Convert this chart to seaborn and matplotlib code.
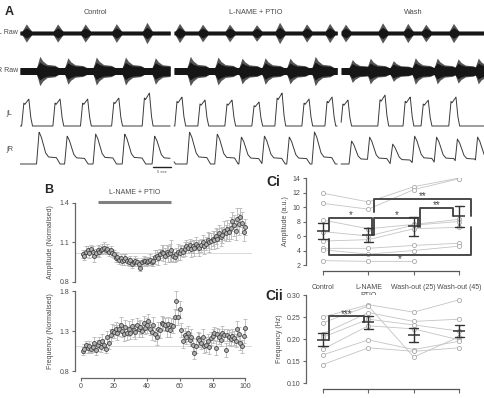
import matplotlib
matplotlib.use("Agg")
import matplotlib.pyplot as plt
import numpy as np
import pandas as pd
import seaborn as sns

#%% DATA
# = = = =

W, H = 485, 398

# A : bursts (onset in s, integrated height in a.u.)
seg_start = [0.0, 42.8, 89.2]
seg_end = [41.7, 88.1, 129.2]
seg_names = ["Control", "L-NAME + PTIO", "Wash"]

intL_onset = [0.75, 9.44, 17.1, 25.75, 34.25,
              43.3, 49.7, 57.2, 64.7, 71.1, 78.6, 85.0,
              89.4, 99.7, 106.7, 111.7, 119.4]
intL_height = [27, 27, 27, 28, 33,
               29, 26, 26, 24, 33, 27, 29,
               26, 31, 29, 26, 29]
intR_onset = [4.9, 12.7, 20.6, 28.7, 37.0,
              46.7, 54.4, 61.1, 67.5, 74.4, 81.4,
              91.7, 96.7, 103.1, 109.2, 115.3, 121.1, 126.7]
intR_height = [32, 28, 30, 30, 28,
               32, 30, 27, 28, 27, 32,
               23, 27, 20, 28, 27, 25, 27]

# B : normalised amplitude / frequency, time points 1..100
b_time = list(range(1, 101))
amp_mean = [1.01, 1.00, 1.03, 1.04, 1.02, 1.05, 1.03, 1.00, 1.02, 1.04,
            1.03, 1.04, 1.05, 1.06, 1.04, 1.05, 1.03, 1.04, 1.02, 1.01,
            0.98, 0.99, 0.97, 0.98, 0.96, 0.97, 0.98, 0.96, 0.95, 0.97,
            0.94, 0.95, 0.96, 0.95, 0.94, 0.91, 0.95, 0.96, 0.96, 0.95,
            0.96, 0.97, 0.95, 0.96, 0.99, 1.00, 0.98, 1.01, 1.03, 1.02,
            1.00, 1.03, 1.01, 1.02, 1.04, 1.00, 0.99, 1.01, 1.03, 1.02,
            1.04, 1.03, 1.05, 1.07, 1.06, 1.08, 1.05, 1.07, 1.06, 1.09,
            1.07, 1.06, 1.08, 1.10, 1.07, 1.09, 1.12, 1.10, 1.11, 1.13,
            1.12, 1.15, 1.13, 1.17, 1.14, 1.16, 1.19, 1.17, 1.20, 1.18,
            1.21, 1.26, 1.23, 1.19, 1.28, 1.24, 1.29, 1.25, 1.18, 1.22]
amp_err = [.03, .03, .04, .03, .04, .03, .04, .05, .03, .04,
           .04, .03, .04, .04, .03, .04, .03, .03, .03, .03,
           .03, .04, .03, .03, .03, .04, .03, .03, .03, .03,
           .03, .03, .04, .03, .03, .03, .03, .04, .03, .03,
           .03, .04, .03, .04, .05, .04, .05, .04, .05, .06,
           .06, .05, .06, .07, .08, .05, .04, .05, .06, .05,
           .04, .04, .05, .05, .04, .05, .06, .05, .06, .05,
           .05, .06, .05, .06, .06, .05, .06, .07, .06, .06,
           .07, .06, .07, .06, .07, .06, .07, .06, .07, .07,
           .08, .07, .08, .07, .08, .08, .07, .08, .07, .06]
freq_mean = [1.05, 1.08, 1.12, 1.09, 1.11, 1.07, 1.10, 1.15, 1.06, 1.12,
             1.16, 1.10, 1.18, 1.13, 1.08, 1.22, 1.15, 1.25, 1.30, 1.29,
             1.33, 1.28, 1.32, 1.38, 1.30, 1.26, 1.35, 1.27, 1.33, 1.28,
             1.36, 1.31, 1.29, 1.38, 1.33, 1.35, 1.30, 1.40, 1.34, 1.37,
             1.42, 1.33, 1.29, 1.38, 1.26, 1.22, 1.33, 1.31, 1.40, 1.39,
             1.38, 1.32, 1.39, 1.31, 1.38, 1.36, 1.47, 1.68, 1.48, 1.57,
             1.31, 1.17, 1.25, 1.22, 1.27, 1.19, 1.23, 1.13, 1.03, 1.11,
             1.21, 1.19, 1.15, 1.23, 1.11, 1.13, 1.18, 1.10, 1.21, 1.24,
             1.27, 1.09, 1.26, 1.23, 1.19, 1.27, 1.25, 1.06, 1.25, 1.22,
             1.20, 1.24, 1.21, 1.18, 1.32, 1.26, 1.15, 1.11, 1.24, 1.34]
freq_err = [.05, .06, .05, .06, .07, .05, .06, .08, .06, .07,
            .07, .06, .08, .07, .06, .08, .07, .08, .09, .08,
            .08, .09, .08, .10, .08, .09, .09, .08, .09, .08,
            .09, .08, .09, .08, .10, .09, .08, .09, .08, .09,
            .09, .08, .10, .09, .08, .09, .08, .10, .09, .08,
            .08, .09, .08, .09, .08, .09, .10, .12, .10, .11,
            .09, .08, .09, .08, .09, .08, .09, .08, .08, .09,
            .08, .09, .08, .09, .08, .09, .08, .09, .08, .09,
            .08, .09, .08, .09, .08, .09, .08, .09, .08, .09,
            .09, .08, .09, .08, .10, .09, .09, .08, .09, .11]
amp_ref = 1.02
freq_ref = 1.11
treat_window = [10.5, 55]

# C : per-animal values
conds = ["Control", "L-NAME\nPTIO", "Wash-out (25)", "Wash-out (45)"]
ci_ctrl = [11.9, 10.5, 8.2, 6.6, 5.3, 4.3, 4.1, 2.6]
ci_lname = [10.7, 9.7, 7.0, 6.0, 5.5, 4.3, 3.5, 2.5]
ci_w25 = [12.8, 12.4, 7.6, 7.5, 7.0, 4.7, 4.0, 2.5]
ci_w45 = [14.0, 13.9, 8.3, 8.0, 7.2, 5.0, 4.6, np.nan]

cii_ctrl = [0.250, 0.237, 0.212, 0.204, 0.177, 0.164, 0.142]
cii_lname = [0.278, 0.275, 0.260, 0.245, 0.230, 0.198, 0.180]
cii_w25 = [0.261, 0.159, 0.240, 0.232, 0.223, 0.176, 0.172]
cii_w45 = [0.289, 0.205, 0.245, 0.218, 0.198, 0.195, 0.180]

# significance brackets: x left, x right, bar y, left leg end, right leg end, label
ci_brackets = [(0.13, 1.09, 8.5, 6.7, 6.2, "*"),
               (1.13, 2.10, 8.5, 6.2, 7.3, "*"),
               (2.13, 2.87, 9.9, 7.3, 8.7, "**"),
               (1.13, 3.27, 11.1, 9.25, 8.7, "**"),
               (0.13, 3.27, 3.4, 5.6, 7.2, "*")]
cii_brackets = [(0.13, 0.90, 0.253, 0.198, 0.239, "***")]


#%% STYLE
# = = = =

sns.set_style("ticks")
plt.rcParams['font.family'] = ['Liberation Sans', 'DejaVu Sans']
plt.rcParams['font.size'] = 5

TXT = '#4a4a4a'
AX = '#666666'

fig = plt.figure(figsize=(W / 100, H / 100), dpi=100)


def px_axes(x0, y0, x1, y1):
    return fig.add_axes([x0 / W, 1 - y1 / H, (x1 - x0) / W, (y1 - y0) / H])


def style_axes(ax):
    sns.despine(ax=ax)
    for s in ['left', 'bottom']:
        ax.spines[s].set_visible(True)
        ax.spines[s].set_color(AX)
        ax.spines[s].set_linewidth(0.9)
    ax.tick_params(colors=AX, labelcolor=TXT, length=2.4, width=0.8, labelsize=5, pad=1.5)


#%% PANEL A
# = = = = =

# burst profiles (time from onset in s, fraction of height)
L_kt = [-0.3, 0.3, 0.6, 1.7, 2.2, 2.7]
L_ky = [0, 0.85, 0.8, 1.0, 0.35, 0]
R_kt = [-0.3, 0.4, 1.0, 2.2, 3.0, 5.2, 6.2]
R_ky = [0, 1.0, 0.85, 0.35, 0.22, 0.2, 0]
rawL_kt = [-0.2, 1.0, 1.6, 2.5]
rawL_ky = [0, 1.0, 0.6, 0]
rawR_kt = [-0.3, 0.6, 1.4, 2.6, 4.8, 5.8]
rawR_ky = [0, 1.0, 0.6, 0.3, 0.22, 0]


def burst_trace(t, onsets, heights, kt, ky):
    y = np.zeros_like(t)
    for t0, h in zip(onsets, heights):
        y = np.maximum(y, h * np.interp(t - t0, kt, ky, left=0, right=0))
    return y


t_len = (W - 20) / 3.6
ax_lraw = px_axes(20, 18, W, 48)
ax_rraw = px_axes(20, 54, W, 88)
ax_intl = px_axes(20, 88, W, 128)
ax_intr = px_axes(20, 128, W, 168)

for s0, s1 in zip(seg_start, seg_end):
    t = np.linspace(s0, s1, 900)
    yl = burst_trace(t, intL_onset, intL_height, L_kt, L_ky)
    yr = burst_trace(t, intR_onset, intR_height, R_kt, R_ky)
    el = burst_trace(t, intL_onset, intL_height, rawL_kt, rawL_ky)
    er = burst_trace(t, intR_onset, intR_height, rawR_kt, rawR_ky)
    # raw: outer envelope (spikes) + dark core
    ax_lraw.fill_between(t, -(1.8 + 0.27 * el), 1.8 + 0.27 * el, color='#555555', lw=0)
    ax_lraw.fill_between(t, -(1.9 + 0.12 * el), 1.9 + 0.12 * el, color='#161616', lw=0)
    ax_rraw.fill_between(t, -(3.2 + 0.36 * er), 3.2 + 0.36 * er, color='#555555', lw=0)
    ax_rraw.fill_between(t, -(3.5 + 0.17 * er), 3.5 + 0.17 * er, color='#161616', lw=0)
    sns.lineplot(x=t, y=yl, ax=ax_intl, color='#3a3a3a', lw=0.7, estimator=None)
    sns.lineplot(x=t, y=yr, ax=ax_intr, color='#3a3a3a', lw=0.7, estimator=None)

ax_lraw.set_ylim(-15, 15)
ax_rraw.set_ylim(-17, 17)
ax_intl.set_ylim(-2, 38)
ax_intr.set_ylim(-4, 36)
for ax in [ax_lraw, ax_rraw, ax_intl, ax_intr]:
    ax.set_xlim(0, t_len)
    ax.set_axis_off()

# 5 sec scale bar
ax_intr.plot([36.9, 41.9], [-3, -3], color='#222222', lw=1, clip_on=False)
fig.text(162 / W, 1 - 172 / H, "5 sec", fontsize=3, color=TXT, ha='center', va='center')

for name, s0, s1 in zip(seg_names, seg_start, seg_end):
    xc = 20 + 3.6 * (s0 + s1) / 2
    fig.text(xc / W, 1 - 12 / H, name, fontsize=5.3, color=TXT, ha='center', va='center')

fig.text(18 / W, 1 - 33 / H, "L Raw", fontsize=5, color=TXT, ha='right', va='center')
fig.text(18 / W, 1 - 71 / H, "R Raw", fontsize=5, color=TXT, ha='right', va='center')
fig.text(6 / W, 1 - 113 / H, "\u222bL", fontsize=5, color=TXT, ha='left', va='center')
fig.text(6 / W, 1 - 149 / H, "\u222bR", fontsize=5, color=TXT, ha='left', va='center')
fig.text(5 / W, 1 - 12 / H, "A", fontsize=9, fontweight='bold', ha='left', va='center')


#%% PANEL B
# = = = = =

ax_amp = px_axes(75, 203, 252, 282)
ax_frq = px_axes(75, 291, 252, 371)

for ax, m, e, ref in [(ax_amp, amp_mean, amp_err, amp_ref), (ax_frq, freq_mean, freq_err, freq_ref)]:
    ax.axhline(ref, color='#d4d4d4', lw=0.6, zorder=0)
    ax.errorbar(b_time, m, yerr=e, fmt='none', ecolor='#b8b8b8', elinewidth=0.6,
                capsize=1.2, capthick=0.6, zorder=1)
    sns.scatterplot(x=b_time, y=m, ax=ax, s=8, color='#b0b0b0', edgecolor='#3a3a3a',
                    linewidth=0.55, zorder=3)
    ax.set_xlim(-3.7, 104)
    style_axes(ax)

ax_amp.set_ylim(0.8, 1.4)
ax_amp.set_yticks([0.8, 1.1, 1.4])
ax_amp.spines['bottom'].set_visible(False)
ax_amp.tick_params(axis='x', bottom=False, labelbottom=False)
ax_amp.set_ylabel("Amplitude (Normalised)", fontsize=5, color=TXT, labelpad=4)

ax_frq.set_ylim(0.8, 1.8)
ax_frq.set_yticks([0.8, 1.3, 1.8])
ax_frq.set_xticks(range(0, 101, 20))
ax_frq.spines['bottom'].set_position(('outward', 5))
ax_frq.spines['bottom'].set_bounds(0, 100)
ax_frq.set_ylabel("Frequency (Normalised)", fontsize=5, color=TXT, labelpad=4)

ax_amp.plot(treat_window, [1.408, 1.408], color='#808080', lw=2.2, clip_on=False,
            solid_capstyle='butt')
ax_amp.text(np.mean(treat_window), 1.476, "L-NAME + PTIO", fontsize=5, color=TXT,
            ha='center', va='center')
fig.text(44 / W, 1 - 190 / H, "B", fontsize=9, fontweight='bold', ha='left', va='center')


#%% PANEL C
# = = = = =

def long_form(groups):
    rows = []
    for pos, vals in enumerate(groups):
        for subj, v in enumerate(vals):
            rows.append({'pos': pos, 'subj': subj, 'val': v})
    return pd.DataFrame(rows)


df_ci = long_form([ci_ctrl, ci_lname, ci_w25, ci_w45])
df_cii = long_form([cii_ctrl, cii_lname, cii_w25, cii_w45])

ax_ci = px_axes(306, 178, 480, 265)
ax_cii = px_axes(306, 295, 480, 383)

for ax, df, brackets, out in [(ax_ci, df_ci, ci_brackets, 4.3), (ax_cii, df_cii, cii_brackets, 4)]:
    sns.lineplot(data=df, x='pos', y='val', units='subj', estimator=None, ax=ax,
                 color='#c4c4c4', lw=0.6, marker='o', markersize=3,
                 markerfacecolor='white', markeredgecolor='#aaaaaa',
                 markeredgewidth=0.6, legend=False, zorder=1)
    sns.pointplot(data=df, x='pos', y='val', native_scale=True, errorbar='se',
                  capsize=0.2, color='#333333', marker='_', markersize=8.6,
                  markeredgewidth=1.1, linestyle='none', err_kws={'linewidth': 1.0},
                  ax=ax, zorder=4)
    yr = df['val'].max() - df['val'].min()
    for x0, x1, yb, yl0, yl1, lab in brackets:
        ax.plot([x0, x0, x1, x1], [yl0, yb, yb, yl1], color='#4a4a4a', lw=1.4, zorder=3)
        above = yb > yl0
        ax.text((x0 + x1) / 2, yb + (0.03 if above else -0.05) * yr, lab,
                fontsize=7, color='#444444', ha='center', va='center')
    ax.set_xlim(-0.375, 3.46)
    ax.set_xticks(range(4))
    ax.set_xticklabels(conds, va='center')
    ax.set_xlabel("")
    style_axes(ax)
    ax.tick_params(axis='x', pad=6.5, length=3)
    ax.spines['bottom'].set_position(('outward', out))
    ax.spines['bottom'].set_bounds(0, 3)
    ax.spines['bottom'].set_color('#555555')

ax_ci.set_ylim(2, 14)
ax_ci.set_yticks(range(2, 15, 2))
ax_ci.set_ylabel("Amplitude (a.u.)", fontsize=5, color=TXT, labelpad=3)

ax_cii.set_ylim(0.10, 0.30)
ax_cii.set_yticks([0.10, 0.15, 0.20, 0.25, 0.30])
ax_cii.set_yticklabels([f"{v:.2f}" for v in [0.10, 0.15, 0.20, 0.25, 0.30]])
ax_cii.set_ylabel("Frequency (Hz)", fontsize=5, color=TXT, labelpad=3)

fig.text(266 / W, 1 - 182 / H, "Ci", fontsize=10, fontweight='bold', ha='left', va='center')
fig.text(265 / W, 1 - 296 / H, "Cii", fontsize=10, fontweight='bold', ha='left', va='center')

plt.savefig("out.png", dpi=100)
